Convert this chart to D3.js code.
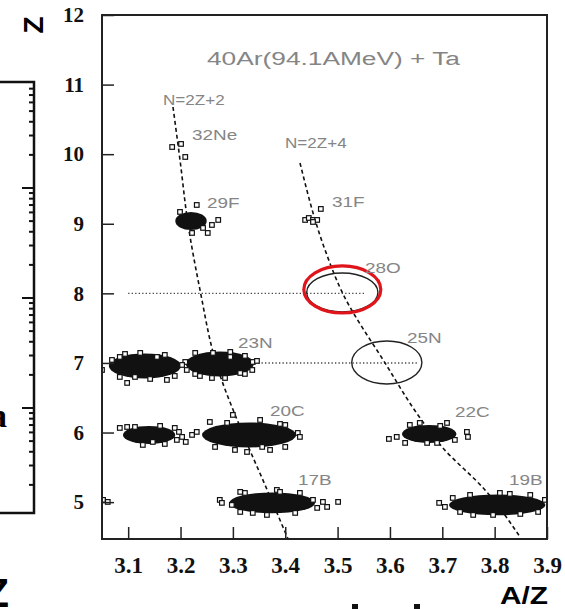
<!DOCTYPE html>
<html>
<head>
<meta charset="utf-8">
<script src="https://cdn.jsdelivr.net/npm/d3@7"></script>
<style>
  body { margin: 0; background: #fff; }
  svg { display: block; }
  .note { font-family: "Liberation Sans", Arial, sans-serif; fill: #858585; }
  .tick text { font-family: "Liberation Serif", "Times New Roman", serif; font-weight: bold; fill: #111; }
  .xaxis .tick text { font-size: 23px; }
  .yaxis .tick text { font-size: 21px; }
  .tick line { stroke: #222; stroke-width: 1.5; }
</style>
</head>
<body>
<svg id="chart" width="565" height="609"></svg>
<script>
// axis ticks
const azTicks = [3.1, 3.2, 3.3, 3.4, 3.5, 3.6, 3.7, 3.8, 3.9];
const zTicks = [5, 6, 7, 8, 9, 10, 11, 12];

// dense isotope spots, centre (A/Z, Z) and half widths
const spotNames = ['22N', '23N', '19C', '20C', '22C', '17B', '19B', '29F'];
const spotAZ = [3.132, 3.275, 3.140, 3.331, 3.675, 3.375, 3.805, 3.220];
const spotZ  = [6.957, 6.986, 5.965, 5.965, 5.980, 4.989, 4.960, 9.040];
const spotRX = [0.069, 0.065, 0.050, 0.090, 0.052, 0.082, 0.092, 0.030];
const spotRY = [0.180, 0.180, 0.130, 0.180, 0.130, 0.150, 0.150, 0.130];

// single events [A/Z, Z]
const eventsZ7 = [[3.069, 7.043], [3.098, 6.713], [3.174, 6.756], [3.155, 7.086], [3.209, 7.014],
  [3.212, 6.899], [3.203, 6.971], [3.262, 7.144], [3.260, 6.784], [3.338, 7.014], [3.346, 7.029],
  [3.337, 6.899], [3.050, 6.899], [3.084, 7.086], [3.113, 6.799], [3.228, 6.842], [3.314, 6.856],
  [3.295, 7.086], [3.094, 7.129], [3.123, 7.144], [3.170, 7.115], [3.084, 6.799], [3.142, 6.770],
  [3.189, 6.813], [3.228, 7.144], [3.295, 7.158], [3.323, 7.101], [3.237, 6.813], [3.285, 6.784],
  [3.323, 6.842]];
const eventsZ6 = [[3.084, 6.066], [3.098, 6.080], [3.189, 6.066], [3.193, 5.894], [3.203, 5.937],
  [3.210, 5.865], [3.128, 5.822], [3.147, 5.865], [3.197, 6.009], [3.222, 5.966], [3.231, 6.009],
  [3.300, 6.253], [3.327, 5.721], [3.371, 5.750], [3.424, 5.994], [3.428, 5.937], [3.289, 6.138],
  [3.356, 5.793], [3.400, 6.109], [3.256, 6.152], [3.352, 6.181], [3.390, 6.123], [3.266, 5.793],
  [3.304, 5.750], [3.400, 5.793], [3.113, 6.080], [3.161, 6.095], [3.170, 5.836],
  [3.598, 5.908], [3.613, 5.937], [3.709, 6.138], [3.747, 6.009], [3.749, 5.937], [3.671, 5.851],
  [3.690, 5.851], [3.657, 6.138], [3.724, 5.894], [3.638, 6.109], [3.696, 6.095], [3.629, 5.851]];
const eventsZ5 = [[3.052, 5.032], [3.061, 5.003], [3.275, 5.032], [3.279, 4.989], [3.384, 5.175],
  [3.390, 5.147], [3.453, 5.032], [3.461, 4.917], [3.472, 5.003], [3.480, 4.931], [3.501, 5.003],
  [3.338, 4.845], [3.365, 4.816], [3.323, 5.132], [3.314, 5.147], [3.428, 5.132], [3.314, 4.859],
  [3.419, 4.845], [3.298, 4.960],
  [3.694, 4.989], [3.705, 4.931], [3.868, 5.103], [3.883, 4.859], [3.759, 4.816], [3.797, 4.816],
  [3.720, 5.060], [3.896, 5.032], [3.829, 5.118], [3.753, 5.103], [3.810, 5.132], [3.734, 4.859],
  [3.849, 4.830]];
const eventsHigh = [[3.231, 9.270], [3.272, 9.055], [3.260, 8.983], [3.252, 8.868], [3.222, 8.868],
  [3.243, 8.940], [3.199, 9.170],
  [3.438, 9.055], [3.445, 9.083], [3.453, 9.055], [3.461, 9.055], [3.453, 9.026], [3.468, 9.213],
  [3.184, 10.103], [3.201, 10.147], [3.209, 9.960]];

// dashed guide lines
const lineAAZ = [3.1856, 3.199, 3.2143, 3.2372, 3.2678, 3.3193, 3.3614, 3.4053];
const lineAZ  = [10.678, 9.917, 8.997, 8.049, 7.0, 5.980, 5.247, 4.471];
const lineBAZ = [3.4282, 3.476, 3.5085, 3.5906, 3.6574, 3.6995, 3.7816, 3.8485];
const lineBZ  = [9.874, 8.624, 8.020, 7.0, 6.210, 5.793, 5.175, 4.500];

// dotted rows
const dotZ = [8, 7];
const dotFrom = [3.1, 3.348];
const dotTo = [3.552, 3.652];

// rings round the missing isotopes
const ringAZ = [3.509, 3.594];
const ringZ = [8.013, 7.007];
const ringRX = [0.068, 0.067];
const ringRY = [0.280, 0.309];
const redRing = [3.509, 8.056, 0.0735, 0.338];

// labels
const labelText = ['N=2Z+2', '32Ne', '29F', 'N=2Z+4', '31F', '28O', '25N', '23N', '20C', '22C', '17B', '19B'];
const labelAZ = [3.1665, 3.222, 3.2506, 3.3996, 3.4894, 3.5524, 3.6326, 3.3098, 3.3709, 3.7243, 3.4244, 3.8275];
const labelZ = [10.707, 10.204, 9.227, 10.089, 9.241, 8.293, 7.287, 7.216, 6.239, 6.224, 5.247, 5.247];
const title = '40Ar(94.1AMeV) + Ta';

const svg = d3.select('#chart');

const x = d3.scaleLinear().domain([3.05, 3.9]).range([102, 547]);
const y = d3.scaleLinear().domain([4.47, 12]).range([539, 15]);

// left-hand neighbour panel (cut off in the scan)
const side = d3.scaleLog().domain([1, 10000]).range([518, 78]);
const sideTicks = side.ticks().filter(v => side(v) > 85 && side(v) < 510);
svg.append('path')
  .attr('d', 'M0,82H34V513H0')
  .attr('fill', 'none')
  .attr('stroke', '#111')
  .attr('stroke-width', 2.5);
svg.append('g').selectAll('line')
  .data(sideTicks)
  .join('line')
  .attr('x1', 34)
  .attr('x2', v => Number.isInteger(Math.log10(v)) ? 22 : 29)
  .attr('y1', v => side(v))
  .attr('y2', v => side(v))
  .attr('stroke', '#111')
  .attr('stroke-width', 2);

svg.append('text')
  .attr('transform', 'translate(43,25) rotate(-90)')
  .attr('text-anchor', 'middle')
  .attr('font-family', '"Liberation Sans", Arial, sans-serif')
  .attr('font-weight', 'bold')
  .attr('font-size', 28)
  .text('Z');
svg.append('text')
  .attr('x', 7).attr('y', 427)
  .attr('text-anchor', 'end')
  .attr('font-family', '"Liberation Serif", serif')
  .attr('font-weight', 'bold')
  .attr('font-size', 34)
  .text('a');
svg.append('text')
  .attr('x', 9).attr('y', 607)
  .attr('text-anchor', 'end')
  .attr('font-family', '"Liberation Sans", Arial, sans-serif')
  .attr('font-weight', 'bold')
  .attr('font-size', 40)
  .text('Z');
svg.append('text')
  .attr('x', 500).attr('y', 604)
  .attr('textLength', 48)
  .attr('lengthAdjust', 'spacingAndGlyphs')
  .attr('font-family', '"Liberation Sans", Arial, sans-serif')
  .attr('font-weight', 'bold')
  .attr('font-size', 24)
  .text('A/Z');
svg.append('rect').attr('x', 352).attr('y', 604).attr('width', 6).attr('height', 5).attr('fill', '#111');
svg.append('rect').attr('x', 414).attr('y', 604).attr('width', 6).attr('height', 5).attr('fill', '#111');

// plot area
svg.append('clipPath').attr('id', 'plot')
  .append('rect')
  .attr('x', x.range()[0]).attr('y', y.range()[1])
  .attr('width', x.range()[1] - x.range()[0])
  .attr('height', y.range()[0] - y.range()[1]);

const plot = svg.append('g').attr('clip-path', 'url(#plot)');

plot.append('g').selectAll('line')
  .data(dotZ)
  .join('line')
  .attr('x1', (d, i) => x(dotFrom[i]))
  .attr('x2', (d, i) => x(dotTo[i]))
  .attr('y1', d => y(d))
  .attr('y2', d => y(d))
  .attr('stroke', '#444')
  .attr('stroke-width', 1.4)
  .attr('stroke-dasharray', '1.3,2.2');

const guide = d3.line().x(d => x(d[0])).y(d => y(d[1])).curve(d3.curveMonotoneY);
[[lineAAZ, lineAZ], [lineBAZ, lineBZ]].forEach(([az, z]) => {
  plot.append('path')
    .attr('d', guide(az.map((v, i) => [v, z[i]])))
    .attr('fill', 'none')
    .attr('stroke', '#111')
    .attr('stroke-width', 1.6)
    .attr('stroke-dasharray', '4,3');
});

plot.append('g').selectAll('ellipse')
  .data(spotNames)
  .join('ellipse')
  .attr('cx', (d, i) => x(spotAZ[i]))
  .attr('cy', (d, i) => y(spotZ[i]))
  .attr('rx', (d, i) => x(spotAZ[i] + spotRX[i]) - x(spotAZ[i]))
  .attr('ry', (d, i) => y(spotZ[i] - spotRY[i]) - y(spotZ[i]))
  .attr('fill', '#111');

const events = eventsZ7.concat(eventsZ6, eventsZ5, eventsHigh);
plot.append('g').selectAll('rect')
  .data(events)
  .join('rect')
  .attr('x', d => x(d[0]) - 2.3)
  .attr('y', d => y(d[1]) - 2.3)
  .attr('width', 4.6)
  .attr('height', 4.6)
  .attr('fill', '#fff')
  .attr('stroke', '#111')
  .attr('stroke-width', 1.2);

plot.append('g').selectAll('ellipse')
  .data(ringAZ)
  .join('ellipse')
  .attr('cx', d => x(d))
  .attr('cy', (d, i) => y(ringZ[i]))
  .attr('rx', (d, i) => x(d + ringRX[i]) - x(d))
  .attr('ry', (d, i) => y(ringZ[i] - ringRY[i]) - y(ringZ[i]))
  .attr('fill', 'none')
  .attr('stroke', '#222')
  .attr('stroke-width', 1.4);

plot.append('ellipse')
  .attr('cx', x(redRing[0]))
  .attr('cy', y(redRing[1]))
  .attr('rx', x(redRing[0] + redRing[2]) - x(redRing[0]))
  .attr('ry', y(redRing[1] - redRing[3]) - y(redRing[1]))
  .attr('fill', 'none')
  .attr('stroke', '#e0141b')
  .attr('stroke-width', 3.2);

// scan font is wide and thin: stretch it sideways
svg.append('g').selectAll('text')
  .data(labelText)
  .join('text')
  .attr('class', 'note')
  .attr('transform', (d, i) => `translate(${x(labelAZ[i])},${y(labelZ[i])}) scale(1.22,1)`)
  .attr('font-size', d => d.startsWith('N=') ? 14 : 15.5)
  .text(d => d);

svg.append('text')
  .attr('class', 'note')
  .attr('x', 207)
  .attr('y', 65)
  .attr('font-size', 18)
  .attr('textLength', 253)
  .attr('lengthAdjust', 'spacingAndGlyphs')
  .text(title);

// axes, ticks point inwards
svg.append('g')
  .attr('class', 'xaxis')
  .attr('transform', `translate(0,${y.range()[0]})`)
  .call(d3.axisBottom(x).tickValues(azTicks).tickSize(-12).tickPadding(18).tickFormat(d3.format('.1f')))
  .call(g => g.select('.domain').remove());

svg.append('g')
  .attr('class', 'yaxis')
  .attr('transform', `translate(${x.range()[0]},0)`)
  .call(d3.axisLeft(y).tickValues(zTicks).tickSize(-12).tickPadding(18))
  .call(g => g.select('.domain').remove());

svg.append('rect')
  .attr('x', x.range()[0])
  .attr('y', y.range()[1])
  .attr('width', x.range()[1] - x.range()[0])
  .attr('height', y.range()[0] - y.range()[1])
  .attr('fill', 'none')
  .attr('stroke', '#222')
  .attr('stroke-width', 2);
</script>
</body>
</html>
